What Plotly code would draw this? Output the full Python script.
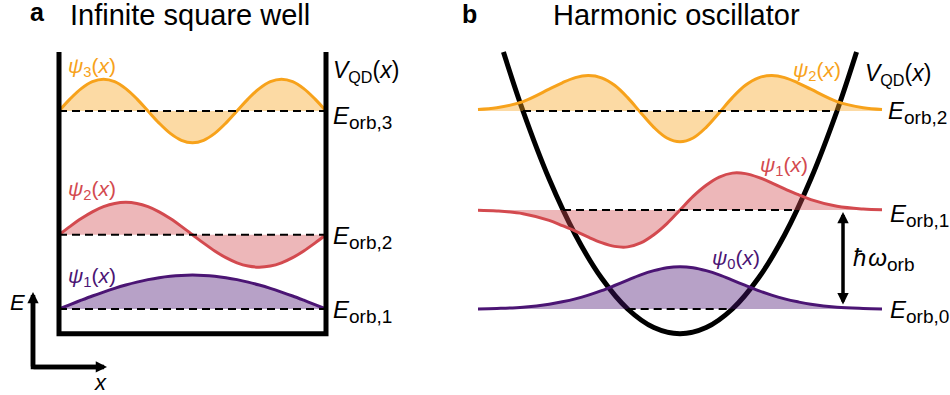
import plotly.graph_objects as go

# ---------------- data ----------------
# Panel a: infinite square well (x in units of well width, E in arbitrary units)
well_x = [0, 0.0417, 0.0833, 0.125, 0.1667, 0.2083, 0.25, 0.2917, 0.3333, 0.375, 0.4167,
          0.4583, 0.5, 0.5417, 0.5833, 0.625, 0.6667, 0.7083, 0.75, 0.7917, 0.8333,
          0.875, 0.9167, 0.9583, 1]
well_psi1 = [0, 0.131, 0.259, 0.383, 0.5, 0.609, 0.707, 0.793, 0.866, 0.924, 0.966, 0.991, 1,
             0.991, 0.966, 0.924, 0.866, 0.793, 0.707, 0.609, 0.5, 0.383, 0.259, 0.131, 0]
well_psi2 = [0, 0.259, 0.5, 0.707, 0.866, 0.966, 1, 0.966, 0.866, 0.707, 0.5, 0.259, 0,
             -0.259, -0.5, -0.707, -0.866, -0.966, -1, -0.966, -0.866, -0.707, -0.5, -0.259, 0]
well_psi3 = [0, 0.383, 0.707, 0.924, 1, 0.924, 0.707, 0.383, 0, -0.383, -0.707, -0.924, -1,
             -0.924, -0.707, -0.383, 0, 0.383, 0.707, 0.924, 1, 0.924, 0.707, 0.383, 0]
well_E = [1, 4, 9]
well_amp = [1.37, 1.31, 1.28]
well_top = 11.38
well_labels = ["<i>ψ</i><sub>1</sub>(<i>x</i>)", "<i>ψ</i><sub>2</sub>(<i>x</i>)", "<i>ψ</i><sub>3</sub>(<i>x</i>)"]
well_Esub = ["orb,1", "orb,2", "orb,3"]

# Panel b: harmonic oscillator
ho_x = [-3.86, -3.5, -3, -2.5, -2.25, -2, -1.75, -1.5, -1.25, -1, -0.75, -0.5, -0.25, 0,
        0.25, 0.5, 0.75, 1, 1.25, 1.5, 1.75, 2, 2.25, 2.5, 3, 3.5, 3.86]
ho_psi0 = [0.0, 0.02, 0.07, 0.19, 0.29, 0.41, 0.56, 0.74, 0.95, 1.17, 1.38, 1.55, 1.67, 1.71,
           1.67, 1.55, 1.38, 1.17, 0.95, 0.74, 0.56, 0.41, 0.29, 0.19, 0.07, 0.02, 0.0]
ho_psi1 = [-0.01, -0.04, -0.15, -0.42, -0.63, -0.85, -1.1, -1.32, -1.47, -1.49, -1.33, -1.0, -0.55, 0,
           0.55, 1.0, 1.33, 1.49, 1.47, 1.32, 1.1, 0.85, 0.63, 0.42, 0.15, 0.04, 0.01]
ho_psi2 = [0.06, 0.13, 0.38, 0.88, 1.14, 1.35, 1.43, 1.34, 1.04, 0.54, -0.07, -0.66, -1.09, -1.24,
           -1.09, -0.66, -0.07, 0.54, 1.04, 1.34, 1.43, 1.35, 1.14, 0.88, 0.38, 0.13, 0.06]
ho_E = [1, 5, 9]
ho_turn = [1.0, 2.236, 3.0]
pot_x = [-3.374, -3, -2.5, -2, -1.5, -1, -0.5, 0, 0.5, 1, 1.5, 2, 2.5, 3, 3.374]
pot_V = [11.38, 9, 6.25, 4, 2.25, 1, 0.25, 0, 0.25, 1, 2.25, 4, 6.25, 9, 11.38]
ho_labels = ["<i>ψ</i><sub>0</sub>(<i>x</i>)", "<i>ψ</i><sub>1</sub>(<i>x</i>)", "<i>ψ</i><sub>2</sub>(<i>x</i>)"]
ho_Esub = ["orb,0", "orb,1", "orb,2"]

# ---------------- style ----------------
colors = ["#4B1574", "#D34A4F", "#F7A21B"]
fills = ["rgba(75,21,116,0.4)", "rgba(211,74,79,0.4)", "rgba(247,162,27,0.4)"]
FONT = "Liberation Sans, Arial, Helvetica, sans-serif"
W, H = 950, 395


def elabel(sub):
    return '<i>E</i><sub><span style="font-size:19px">' + sub + '</span></sub>'


fig = go.Figure()

# ---- panel a ----
for n, shape in enumerate([well_psi1, well_psi2, well_psi3]):
    E = well_E[n]
    fig.add_trace(go.Scatter(x=[well_x[0], well_x[-1]], y=[E, E], mode="lines",
                             line=dict(width=0, color="rgba(0,0,0,0)"), hoverinfo="skip",
                             xaxis="x", yaxis="y"))
    fig.add_trace(go.Scatter(x=well_x, y=[E + well_amp[n] * v for v in shape], mode="lines",
                             line=dict(color=colors[n], width=3, shape="spline"),
                             fill="tonexty", fillcolor=fills[n], xaxis="x", yaxis="y"))
for E in well_E:
    fig.add_trace(go.Scatter(x=[well_x[0], well_x[-1]], y=[E, E], mode="lines",
                             line=dict(color="black", width=2.2, dash="8px,5px"),
                             xaxis="x", yaxis="y"))
fig.add_trace(go.Scatter(x=[0, 0, 1, 1], y=[well_top, 0, 0, well_top], mode="lines",
                         line=dict(color="black", width=5), xaxis="x", yaxis="y"))

# ---- panel b ----
fig.add_trace(go.Scatter(x=pot_x, y=pot_V, mode="lines",
                         line=dict(color="black", width=5, shape="spline"),
                         xaxis="x2", yaxis="y"))
for n, psi in enumerate([ho_psi0, ho_psi1, ho_psi2]):
    E = ho_E[n]
    fig.add_trace(go.Scatter(x=[ho_x[0], ho_x[-1]], y=[E, E], mode="lines",
                             line=dict(width=0, color="rgba(0,0,0,0)"), hoverinfo="skip",
                             xaxis="x2", yaxis="y"))
    fig.add_trace(go.Scatter(x=ho_x, y=[E + v for v in psi], mode="lines",
                             line=dict(color=colors[n], width=3, shape="spline"),
                             fill="tonexty", fillcolor=fills[n], xaxis="x2", yaxis="y"))
for E, t in zip(ho_E, ho_turn):
    fig.add_trace(go.Scatter(x=[-t, t], y=[E, E], mode="lines",
                             line=dict(color="black", width=2.2, dash="8px,5px"),
                             xaxis="x2", yaxis="y"))


def ann(text, px, py, size, color="black", xanchor="left"):
    return dict(text=text, x=px / W, y=1 - py / H, xref="paper", yref="paper",
                xanchor=xanchor, yanchor="middle", showarrow=False,
                font=dict(family=FONT, size=size, color=color))


annotations = [
    ann("<b>a</b>", 37.5, 12.5, 25, xanchor="center"),
    ann("Infinite square well", 68, 15, 29),
    ann("<b>b</b>", 469.5, 14, 25, xanchor="center"),
    ann("Harmonic oscillator", 551, 15, 29),
    # panel a labels
    ann(well_labels[2], 66, 67, 21, colors[2]),
    ann(well_labels[1], 66, 190, 21, colors[1]),
    ann(well_labels[0], 66, 277, 21, colors[0]),
    ann("<i>V</i><sub>QD</sub>(<i>x</i>)", 331, 72, 23),
    ann(elabel(well_Esub[2]), 331, 117, 24),
    ann(elabel(well_Esub[1]), 331, 237, 24),
    ann(elabel(well_Esub[0]), 331, 311, 24),
    ann("<i>E</i>", 17, 302, 22, xanchor="center"),
    ann("<i>x</i>", 100, 382, 22, xanchor="center"),
    # panel b labels
    ann(ho_labels[2], 791, 71, 21, colors[2]),
    ann(ho_labels[1], 758, 166, 21, colors[1]),
    ann(ho_labels[0], 710, 259, 21, colors[0]),
    ann("<i>V</i><sub>QD</sub>(<i>x</i>)", 863, 74, 23),
    ann(elabel(ho_Esub[2]), 886, 113, 24),
    ann(elabel(ho_Esub[1]), 888, 215, 24),
    ann(elabel(ho_Esub[0]), 888, 311, 24),
    ann('<i>ħ\u200aω</i><sub><span style="font-size:19px">orb</span></sub>', 851, 259, 24),
]

# axis arrow heads (panel a) and spacing arrow (panel b)
annotations += [
    dict(x=-0.0974, y=1.687, xref="x", yref="y", ax=0, ay=76, axref="pixel", ayref="pixel",
         showarrow=True, arrowhead=2, arrowsize=0.5, arrowwidth=4.5, arrowcolor="black", text=""),
    dict(x=0.1798, y=-1.343, xref="x", yref="y", ax=-75, ay=0, axref="pixel", ayref="pixel",
         showarrow=True, arrowhead=2, arrowsize=0.5, arrowwidth=4.5, arrowcolor="black", text=""),
    dict(x=3.115, y=4.92, xref="x2", yref="y", ax=0, ay=94,
         showarrow=True, arrowhead=2, startarrowhead=2, arrowside="end+start",
         arrowsize=0.65, startarrowsize=0.65, arrowwidth=3.5, arrowcolor="black", text=""),
]

shapes = [
    dict(type="path", xref="x", yref="y",
         path="M -0.0974 1.444 L -0.0974 -1.343 L 0.1573 -1.343",
         line=dict(color="black", width=4.5)),
]

fig.update_layout(
    width=W, height=H, margin=dict(l=0, r=0, t=0, b=0),
    paper_bgcolor="white", plot_bgcolor="rgba(0,0,0,0)", showlegend=False,
    xaxis=dict(domain=[0, 0.5], range=[-0.22097, 1.55805], visible=False, fixedrange=True),
    xaxis2=dict(domain=[0.5, 1], range=[-3.9174, 5.1596], visible=False, anchor="y", fixedrange=True),
    yaxis=dict(domain=[0, 1], range=[-2.4747, 13.4848], visible=False, fixedrange=True),
    annotations=annotations, shapes=shapes,
)

fig.write_html("out.html")
